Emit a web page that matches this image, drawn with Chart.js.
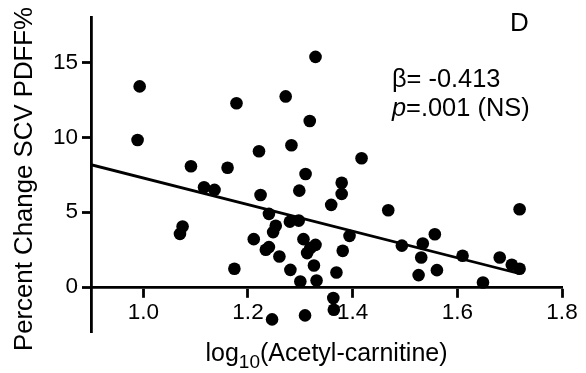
<!DOCTYPE html>
<html><head><meta charset="utf-8">
<script src="https://cdn.jsdelivr.net/npm/chart.js@4/dist/chart.umd.min.js"></script>
<style>html,body{margin:0;padding:0;background:#fff}</style>
</head><body>
<canvas id="c" width="586" height="373" style="display:block;width:586px;height:373px"></canvas>
<script>
const xValues = [0.993,0.989,1.070,1.075,1.091,1.116,1.136,1.161,1.174,1.178,1.211,1.221,1.224,1.234,1.240,1.240,1.246,1.248,1.253,1.260,1.272,1.280,1.281,1.283,1.297,1.298,1.300,1.306,1.309,1.310,1.313,1.318,1.319,1.329,1.326,1.329,1.331,1.359,1.363,1.364,1.369,1.379,1.379,1.381,1.394,1.417,1.468,1.494,1.526,1.531,1.534,1.557,1.561,1.610,1.649,1.681,1.704,1.719,1.719];
const yValues = [13.4,9.82,3.55,4.04,8.07,6.67,6.49,7.97,1.22,12.27,3.2,9.07,6.15,2.49,2.67,4.89,-2.16,3.67,4.09,2.04,12.73,4.37,1.15,9.47,4.44,6.44,0.37,3.2,-1.89,7.55,2.27,11.09,2.6,2.82,1.44,15.37,0.44,5.49,-0.73,-1.51,0.97,6.97,6.22,2.42,3.42,8.6,5.13,2.77,0.8,1.97,2.91,3.53,1.13,2.09,0.31,1.97,1.49,1.22,5.2];
const fitX = [0.9, 1.72];
const fitY = [8.17, 0.89];
const xTicks = [1.0, 1.2, 1.4, 1.6, 1.8];
const yTicks = [0, 5, 10, 15];
const yTitle = 'Percent Change SCV PDFF%';
const xTitleMain = 'log';
const xTitleSub = '10';
const xTitleRest = '(Acetyl-carnitine)';
const panelLabel = 'D';
const betaText = 'β= -0.413';
const pLetter = 'p';
const pRest = '=.001 (NS)';

const FONT = '"Liberation Sans", Arial, Helvetica, sans-serif';

const textPlugin = {
  id: 'texts',
  afterDraw(chart) {
    const ctx = chart.ctx;
    ctx.save();
    ctx.fillStyle = '#000';
    // y title
    ctx.save();
    ctx.translate(31.5, 179);
    ctx.rotate(-Math.PI / 2);
    ctx.font = '25.8px ' + FONT;
    ctx.textAlign = 'center';
    ctx.textBaseline = 'alphabetic';
    ctx.fillText(yTitle, 0, 0);
    ctx.restore();
    // x title with subscript
    ctx.textBaseline = 'alphabetic';
    ctx.textAlign = 'left';
    ctx.font = '25px ' + FONT;
    const wMain = ctx.measureText(xTitleMain).width;
    const wRest = ctx.measureText(xTitleRest).width;
    ctx.font = '19px ' + FONT;
    const wSub = ctx.measureText(xTitleSub).width;
    let x0 = 326.5 - (wMain + wSub + wRest) / 2;
    const base = 361;
    ctx.font = '25px ' + FONT;
    ctx.fillText(xTitleMain, x0, base);
    ctx.font = '19px ' + FONT;
    ctx.fillText(xTitleSub, x0 + wMain, base + 7);
    ctx.font = '25px ' + FONT;
    ctx.fillText(xTitleRest, x0 + wMain + wSub, base);
    // panel label
    ctx.font = '26px ' + FONT;
    ctx.fillText(panelLabel, 510, 31);
    // stats
    ctx.font = '25.4px ' + FONT;
    ctx.fillText(betaText, 392, 87);
    ctx.font = 'italic 25.4px ' + FONT;
    ctx.fillText(pLetter, 392, 116);
    const wp = ctx.measureText(pLetter).width;
    ctx.font = '25.4px ' + FONT;
    ctx.fillText(pRest, 392 + wp, 116);
    ctx.restore();
  }
};

new Chart(document.getElementById('c'), {
  data: {
    datasets: [
      {
        type: 'scatter',
        data: xValues.map((x, i) => ({x: x, y: yValues[i]})),
        backgroundColor: '#000',
        borderWidth: 0,
        pointRadius: 6.3,
        pointHoverRadius: 6.3
      },
      {
        type: 'line',
        data: fitX.map((x, i) => ({x: x, y: fitY[i]})),
        borderColor: '#000',
        borderWidth: 2.8,
        pointRadius: 0,
        fill: false
      }
    ]
  },
  plugins: [textPlugin],
  options: {
    responsive: false,
    animation: false,
    devicePixelRatio: 1,
    layout: { padding: { left: 0, right: 24, top: 17, bottom: 41 } },
    plugins: { legend: { display: false }, tooltip: { enabled: false } },
    scales: {
      x: {
        type: 'linear',
        min: 0.9,
        max: 1.8,
        position: { y: 0 },
        afterFit(s) { s.height = 0; },
        afterBuildTicks(s) { s.ticks = xTicks.map(v => ({value: v})); },
        ticks: {
          color: '#000',
          padding: 3,
          maxRotation: 0,
          autoSkip: false,
          font: { family: FONT, size: 22.5 },
          callback: v => Number(v).toFixed(1)
        },
        grid: { drawOnChartArea: false, drawTicks: true, tickLength: 9, tickWidth: 2.8, tickColor: '#000' },
        border: { display: true, color: '#000', width: 2.8 }
      },
      y: {
        type: 'linear',
        min: -3,
        max: 18,
        position: 'left',
        afterFit(s) { s.width = 91; },
        afterBuildTicks(s) { s.ticks = yTicks.map(v => ({value: v})); },
        ticks: {
          color: '#000',
          padding: 4,
          autoSkip: false,
          font: { family: FONT, size: 22.5 },
          callback: v => String(v)
        },
        grid: { drawOnChartArea: false, drawTicks: true, tickLength: 9, tickWidth: 2.8, tickColor: '#000' },
        border: { display: true, color: '#000', width: 2.8 }
      }
    }
  }
});
</script>
</body></html>
